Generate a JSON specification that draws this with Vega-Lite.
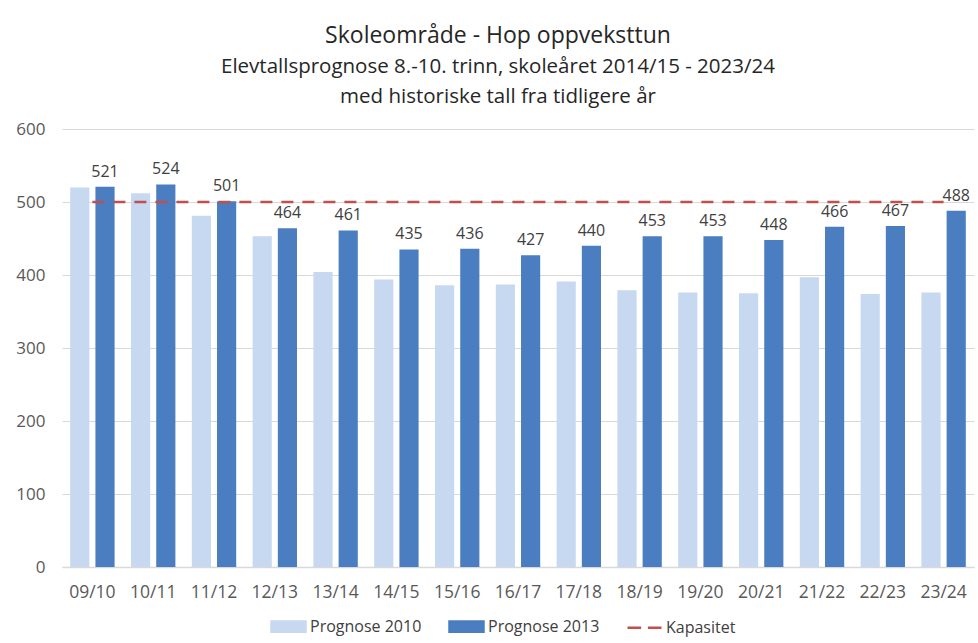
{
  "$schema": "https://vega.github.io/schema/vega-lite/v6.json",
  "autosize": {"type": "none"},
  "width": 912,
  "height": 438,
  "padding": {"left": 62, "top": 129, "right": 4, "bottom": 76},
  "background": "white",
  "config": {
    "font": "Open Sans",
    "view": {"stroke": null}
  },
  "title": {
    "text": "Skoleområde - Hop oppveksttun",
    "subtitle": ["Elevtallsprognose 8.-10. trinn, skoleåret 2014/15 - 2023/24", "med historiske tall fra tidligere år"],
    "fontSize": 23,
    "fontWeight": "normal",
    "color": "#262626",
    "subtitleFontSize": 20.5,
    "subtitleColor": "#262626",
    "subtitleLineHeight": 30,
    "subtitlePadding": 9,
    "offset": 13,
    "anchor": "middle",
    "dx": -20
  },
  "data": {
    "values": [
      {"year": "09/10", "series": "Prognose 2010", "value": 520},
      {"year": "10/11", "series": "Prognose 2010", "value": 512},
      {"year": "11/12", "series": "Prognose 2010", "value": 481},
      {"year": "12/13", "series": "Prognose 2010", "value": 453},
      {"year": "13/14", "series": "Prognose 2010", "value": 404},
      {"year": "14/15", "series": "Prognose 2010", "value": 394},
      {"year": "15/16", "series": "Prognose 2010", "value": 386},
      {"year": "16/17", "series": "Prognose 2010", "value": 387},
      {"year": "17/18", "series": "Prognose 2010", "value": 391},
      {"year": "18/19", "series": "Prognose 2010", "value": 379},
      {"year": "19/20", "series": "Prognose 2010", "value": 376},
      {"year": "20/21", "series": "Prognose 2010", "value": 375},
      {"year": "21/22", "series": "Prognose 2010", "value": 397},
      {"year": "22/23", "series": "Prognose 2010", "value": 374},
      {"year": "23/24", "series": "Prognose 2010", "value": 376},
      {"year": "09/10", "series": "Prognose 2013", "value": 521},
      {"year": "10/11", "series": "Prognose 2013", "value": 524},
      {"year": "11/12", "series": "Prognose 2013", "value": 501},
      {"year": "12/13", "series": "Prognose 2013", "value": 464},
      {"year": "13/14", "series": "Prognose 2013", "value": 461},
      {"year": "14/15", "series": "Prognose 2013", "value": 435},
      {"year": "15/16", "series": "Prognose 2013", "value": 436},
      {"year": "16/17", "series": "Prognose 2013", "value": 427},
      {"year": "17/18", "series": "Prognose 2013", "value": 440},
      {"year": "18/19", "series": "Prognose 2013", "value": 453},
      {"year": "19/20", "series": "Prognose 2013", "value": 453},
      {"year": "20/21", "series": "Prognose 2013", "value": 448},
      {"year": "21/22", "series": "Prognose 2013", "value": 466},
      {"year": "22/23", "series": "Prognose 2013", "value": 467},
      {"year": "23/24", "series": "Prognose 2013", "value": 488},
      {"year": "09/10", "series": "Kapasitet", "value": 500},
      {"year": "10/11", "series": "Kapasitet", "value": 500},
      {"year": "11/12", "series": "Kapasitet", "value": 500},
      {"year": "12/13", "series": "Kapasitet", "value": 500},
      {"year": "13/14", "series": "Kapasitet", "value": 500},
      {"year": "14/15", "series": "Kapasitet", "value": 500},
      {"year": "15/16", "series": "Kapasitet", "value": 500},
      {"year": "16/17", "series": "Kapasitet", "value": 500},
      {"year": "17/18", "series": "Kapasitet", "value": 500},
      {"year": "18/19", "series": "Kapasitet", "value": 500},
      {"year": "19/20", "series": "Kapasitet", "value": 500},
      {"year": "20/21", "series": "Kapasitet", "value": 500},
      {"year": "21/22", "series": "Kapasitet", "value": 500},
      {"year": "22/23", "series": "Kapasitet", "value": 500},
      {"year": "23/24", "series": "Kapasitet", "value": 500}
    ]
  },
  "encoding": {
    "x": {
      "field": "year",
      "type": "nominal",
      "sort": null,
      "scale": {"paddingInner": 0.27, "paddingOuter": 0.135},
      "axis": {
        "title": null,
        "labelAngle": 0,
        "labelFontSize": 17.5,
        "labelColor": "#595959",
        "labelPadding": 16,
        "ticks": false,
        "domainColor": "#d9d9d9",
        "domainWidth": 1.5
      }
    },
    "y": {
      "field": "value",
      "type": "quantitative",
      "scale": {"domain": [0, 600], "nice": false},
      "axis": {
        "title": null,
        "values": [0, 100, 200, 300, 400, 500, 600],
        "labelFontSize": 17,
        "labelColor": "#595959",
        "labelPadding": 17,
        "ticks": false,
        "domain": false,
        "gridColor": "#d9d9d9",
        "gridWidth": 1.2
      }
    }
  },
  "layer": [
    {
      "transform": [{"filter": "datum.series !== 'Kapasitet'"}],
      "mark": {"type": "bar"},
      "encoding": {
        "xOffset": {"field": "series", "type": "nominal", "scale": {"domain": ["Prognose 2010", "Prognose 2013"], "paddingInner": 0.24, "paddingOuter": 0}},
        "color": {
          "field": "series",
          "type": "nominal",
          "scale": {"domain": ["Prognose 2010", "Prognose 2013", "Kapasitet"], "range": ["#C6D9F1", "#4A7EC0", "#C0504D"]},
          "legend": {
            "title": null,
            "orient": "none",
            "legendX": 208,
            "legendY": 479,
            "direction": "horizontal",
            "padding": 0,
            "labelFontSize": 16,
            "labelColor": "#404040",
            "labelOffset": 3,
            "columnPadding": 22,
            "symbolSize": 1156,
            "encode": {
              "symbols": {
                "update": {
                  "shape": {"signal": "datum.value === 'Kapasitet' ? 'M-1,0H-0.2M0.2,0H1' : 'M-1,-0.3H1V0.3H-1Z'"},
                  "fill": {"signal": "datum.value === 'Prognose 2010' ? '#C6D9F1' : datum.value === 'Prognose 2013' ? '#4A7EC0' : 'transparent'"},
                  "stroke": {"signal": "datum.value === 'Kapasitet' ? '#C0504D' : 'transparent'"},
                  "strokeWidth": {"value": 2.5},
                  "strokeDash": {"value": []},
                  "opacity": {"value": 1},
                  "fillOpacity": {"value": 1}
                }
              }
            }
          }
        }
      }
    },
    {
      "transform": [{"filter": "datum.series === 'Prognose 2013'"}],
      "mark": {"type": "text", "baseline": "bottom", "dy": -7, "fontSize": 16, "color": "#404040"},
      "encoding": {
        "xOffset": {"field": "series", "type": "nominal"},
        "text": {"field": "value", "type": "quantitative"}
      }
    },
    {
      "transform": [{"filter": "datum.series === 'Kapasitet'"}],
      "mark": {"type": "line", "strokeDash": [12, 9], "strokeWidth": 2.5},
      "encoding": {
        "color": {"field": "series", "type": "nominal"}
      }
    }
  ]
}
